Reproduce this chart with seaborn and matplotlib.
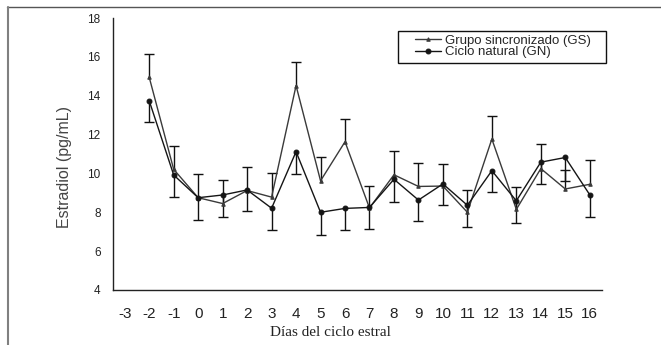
import numpy as np
import pandas as pd
import matplotlib
matplotlib.use("Agg")
import matplotlib.pyplot as plt
import seaborn as sns
from matplotlib.patches import Rectangle
from matplotlib.lines import Line2D

# ---- data ----
days = [-2, -1, 0, 1, 2, 3, 4, 5, 6, 7, 8, 9, 10, 11, 12, 13, 14, 15, 16]
gs_mean = [14.95, 10.21, 8.75, 8.45, 9.12, 8.78, 14.52, 9.62, 11.63, 8.22,
           9.93, 9.33, 9.35, 8.00, 11.77, 8.15, 10.25, 9.20, 9.44]
gs_se = [1.21, 1.20, 1.24, 1.21, 1.23, 1.22, 1.20, 1.21, 1.15, 1.13,
         1.24, 1.22, 1.15, 1.13, 1.18, 1.13, 1.26, 1.00, 1.23]
gn_mean = [13.74, 9.92, 8.75, 8.89, 9.15, 8.21, 11.12, 8.00, 8.20, 8.25,
           9.70, 8.63, 9.46, 8.36, 10.14, 8.59, 10.58, 10.82, 8.90]
gn_se = [1.09, 1.15, 1.15, 1.15, 1.07, 1.12, 1.15, 1.17, 1.11, 1.13,
         1.16, 1.08, 1.09, 1.13, 1.11, 1.13, 1.12, 1.19, 1.13]
xtick_values = list(range(-3, 17))
xtick_labels = [str(v) for v in xtick_values]
ytick_values = [4, 6, 8, 10, 12, 14, 16, 18]
label_gs = "Grupo sincronizado (GS)"
label_gn = "Ciclo natural (GN)"

sns.set_style("white")
plt.rcParams["font.family"] = ["Liberation Sans", "DejaVu Sans"]

W, H = 661, 345
fig = plt.figure(figsize=(W / 100, H / 100), dpi=100)
ax = fig.add_axes([112.5 / W, 55 / H, 489.5 / W, 272 / H])

df_gs = pd.DataFrame({"dia": days, "val": gs_mean})
df_gn = pd.DataFrame({"dia": days, "val": gn_mean})

sns.lineplot(data=df_gs, x="dia", y="val", ax=ax, color="#3a3a3a", lw=1,
             marker="^", markersize=2.5, markeredgecolor="#3a3a3a",
             markerfacecolor="#3a3a3a", label=label_gs, zorder=3)
sns.lineplot(data=df_gn, x="dia", y="val", ax=ax, color="#151515", lw=1,
             marker="o", markersize=3.5, markeredgecolor="#151515",
             markerfacecolor="#151515", label=label_gn, zorder=4)

# error bars: GS upward, GN downward
gs_m = np.array(gs_mean); gs_e = np.array(gs_se)
gn_m = np.array(gn_mean); gn_e = np.array(gn_se)
ax.vlines(days, gs_m, gs_m + gs_e, colors="#111111", lw=1, zorder=2)
ax.plot(days, gs_m + gs_e, ls="none", marker="_", ms=7.5, mew=1, color="#111111", zorder=2)
ax.vlines(days, gn_m - gn_e, gn_m, colors="#111111", lw=1, zorder=2)
ax.plot(days, gn_m - gn_e, ls="none", marker="_", ms=7.5, mew=1, color="#111111", zorder=2)

ax.set_xlim(-3.5, 16.5)
ax.set_ylim(4, 18)
ax.set_xticks(xtick_values)
ax.set_xticklabels(xtick_labels, fontsize=11, color="#222222")
ax.set_xticks(np.arange(-3.5, 17, 1), minor=True)
ax.tick_params(axis="x", which="major", length=0, pad=12)
ax.tick_params(axis="x", which="minor", length=3, width=1, direction="out", color="#222222")
ax.set_yticks(ytick_values)
ax.set_yticklabels([str(v) for v in ytick_values], fontsize=8.5, color="#222222")
ax.tick_params(axis="y", length=3.6, width=1, direction="out", pad=5, color="#222222")
for s in ["top", "right"]:
    ax.spines[s].set_visible(False)
for s in ["left", "bottom"]:
    ax.spines[s].set_color("#222222")
    ax.spines[s].set_linewidth(1)
ax.set_xlabel("")
ax.set_ylabel("")

# legend
handles, labels = ax.get_legend_handles_labels()
ax.legend(handles, labels, loc="upper left", bbox_to_anchor=(415 / W, 1 - 34.5 / H),
          bbox_transform=fig.transFigure, frameon=False, borderpad=0,
          borderaxespad=0, handlelength=2.0, handletextpad=0.3,
          labelspacing=-0.05, fontsize=9.5)
fig.patches.append(Rectangle((398 / W, 1 - 63 / H), 208 / W, 32 / H,
                             transform=fig.transFigure, fill=False,
                             ec="#111111", lw=1))

# axis titles
fig.text(65 / W, 1 - 167.5 / H, "Estradiol (pg/mL)", rotation=90,
         ha="center", va="center", fontsize=11.5, color="#444444")
fig.text(330 / W, 1 - 333 / H, "Días del ciclo estral", ha="center",
         va="center", fontsize=11, family=["Liberation Serif", "DejaVu Serif"],
         color="#222222")

# figure frame (top and left edges)
fig.lines.append(Line2D([7 / W, 1], [1 - 7 / H, 1 - 7 / H], transform=fig.transFigure,
                        color="#555555", lw=1))
fig.lines.append(Line2D([7.5 / W, 7.5 / W], [0, 1 - 7 / H], transform=fig.transFigure,
                        color="#808080", lw=1.5))

fig.savefig("out.png", dpi=100)
